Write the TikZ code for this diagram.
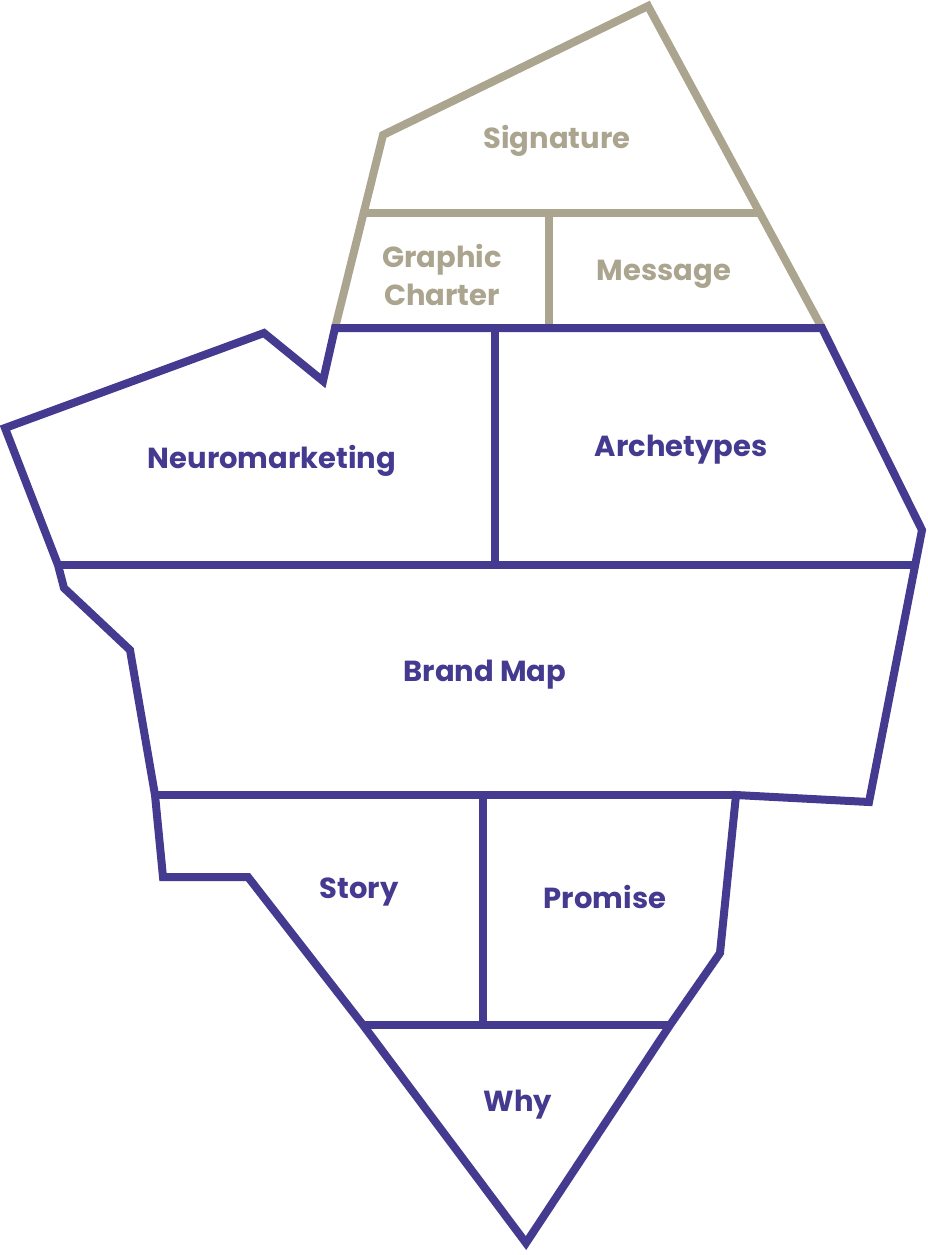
\documentclass[tikz,border=0pt]{standalone}
\usepackage{fontspec}
\setmainfont{Poppins}
\usepackage{xcolor}
\usepackage{tikz}
\definecolor{sand}{HTML}{ABA48E}
\definecolor{indigo}{HTML}{443A8F}

\begin{document}
\begin{tikzpicture}[x=1pt,y=-1pt]
\tikzstyle{every node}=[font=\fontsize{29}{38}\selectfont\bfseries,align=center];
\tikzstyle{upper}=[draw=sand,line width=8pt];
\tikzstyle{lower}=[draw=indigo,line width=8pt];
\useasboundingbox (0,0) rectangle (927,1255);
% gray cap
\draw[upper] (335,328) -- (383,135) -- (648,6) -- (822,328);
\draw[upper] (364,213) -- (760,213)
(549,213) -- (549,328);
% purple body
\draw[lower] (335,328) -- (822,328) -- (922,530) -- (869,802) -- (736,795) -- (720,953)
-- (670,1025) -- (526,1243) -- (363,1025) -- (248,877) -- (163,877) -- (155,795)
-- (130,650) -- (64,588) -- (58,565) -- (5,428) -- (264,333) -- (323,381) -- cycle;
\draw[lower] (58,565) -- (916,565)
(495,328) -- (495,565)
(155,795) -- (736,795)
(483,795) -- (483,1025)
(363,1025) -- (670,1025);
% labels
\path (557,141) node[text=sand] (sig) {Signature};
\path (442,275) node[text=sand] (gc) {Graphic\\Charter};
\path (664,274) node[text=sand] (msg) {Message};
\path (272,461) node[text=indigo] (neuro) {Neuromarketing};
\path (681,450) node[text=indigo] (arch) {Archetypes};
\path (485,675) node[text=indigo] (bmap) {Brand Map};
\path (359,892) node[text=indigo] (story) {Story};
\path (605,897) node[text=indigo] (prom) {Promise};
\path (518,1105) node[text=indigo] (why) {Why};
\end{tikzpicture}
\end{document}
